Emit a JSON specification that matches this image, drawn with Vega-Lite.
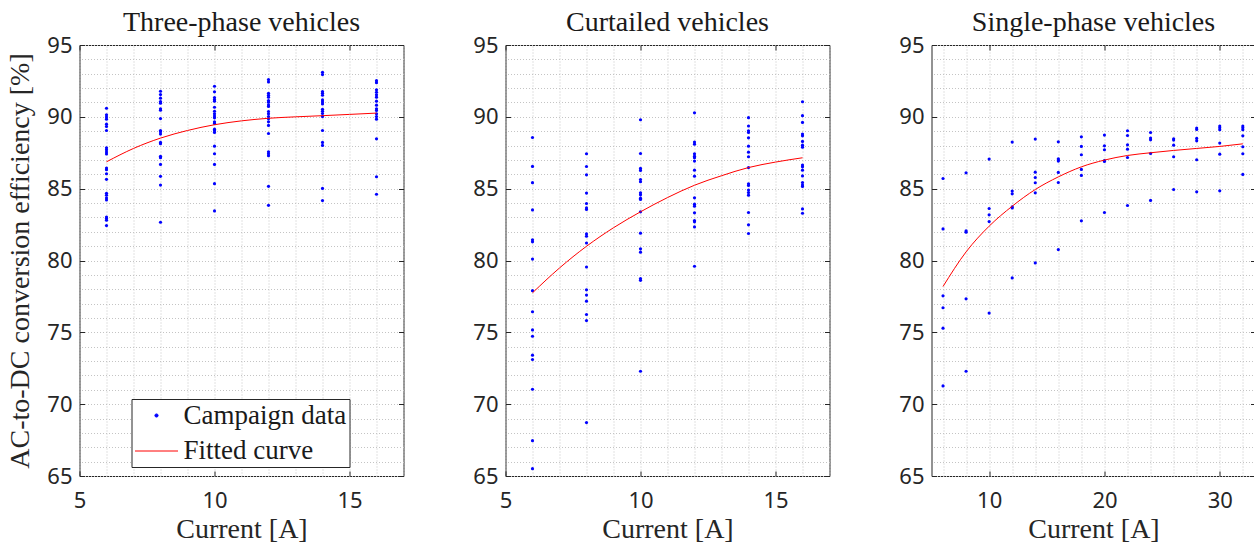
{
  "$schema": "https://vega.github.io/schema/vega-lite/v6.json",
  "padding": {"left": 5.5, "top": 8, "right": 0, "bottom": 0},
  "bounds": "flush",
  "spacing": 102,
  "config": {
    "font": "Liberation Serif",
    "view": {"stroke": "#262626", "strokeWidth": 1},
    "axis": {
      "domain": false,
      "labelFont": "Noto Sans",
      "labelFontSize": 22,
      "labelColor": "#262626",
      "labelFlush": false,
      "labelOverlap": false,
      "titleFont": "Liberation Serif",
      "titleFontSize": 28,
      "titleFontWeight": "normal",
      "titleColor": "#262626",
      "tickColor": "#262626",
      "tickSize": -5,
      "tickWidth": 1,
      "gridColor": "#c4c4c4",
      "gridDash": [1, 2],
      "gridWidth": 1
    },
    "title": {"font": "Liberation Serif", "fontSize": 28, "fontWeight": "normal", "color": "#1a1a1a", "baseline": "alphabetic", "offset": -3}
  },
  "datasets": {
    "threePhase": [
      {"current": 6, "efficiency": 90.6}, {"current": 6, "efficiency": 90.14}, {"current": 6, "efficiency": 89.98}, {"current": 6, "efficiency": 89.84}, {"current": 6, "efficiency": 89.49}, {"current": 6, "efficiency": 89.33}, {"current": 6, "efficiency": 89.05}, {"current": 6, "efficiency": 87.85}, {"current": 6, "efficiency": 87.71}, {"current": 6, "efficiency": 87.55}, {"current": 6, "efficiency": 87.41}, {"current": 6, "efficiency": 86.44}, {"current": 6, "efficiency": 86.32}, {"current": 6, "efficiency": 86.04}, {"current": 6, "efficiency": 85.65}, {"current": 6, "efficiency": 84.68}, {"current": 6, "efficiency": 84.54}, {"current": 6, "efficiency": 84.35}, {"current": 6, "efficiency": 84.21}, {"current": 6, "efficiency": 83.03}, {"current": 6, "efficiency": 82.92}, {"current": 6, "efficiency": 82.8}, {"current": 6, "efficiency": 82.43},
      {"current": 8, "efficiency": 91.78}, {"current": 8, "efficiency": 91.55}, {"current": 8, "efficiency": 91.3}, {"current": 8, "efficiency": 91.06}, {"current": 8, "efficiency": 90.95}, {"current": 8, "efficiency": 90.56}, {"current": 8, "efficiency": 90.46}, {"current": 8, "efficiency": 89.88}, {"current": 8, "efficiency": 89.05}, {"current": 8, "efficiency": 88.96}, {"current": 8, "efficiency": 88.8}, {"current": 8, "efficiency": 88.22}, {"current": 8, "efficiency": 88.13}, {"current": 8, "efficiency": 87.25}, {"current": 8, "efficiency": 87.15}, {"current": 8, "efficiency": 86.69}, {"current": 8, "efficiency": 85.86}, {"current": 8, "efficiency": 85.25}, {"current": 8, "efficiency": 82.66},
      {"current": 10, "efficiency": 92.13}, {"current": 10, "efficiency": 91.74}, {"current": 10, "efficiency": 91.34}, {"current": 10, "efficiency": 91.2}, {"current": 10, "efficiency": 91.09}, {"current": 10, "efficiency": 90.67}, {"current": 10, "efficiency": 90.39}, {"current": 10, "efficiency": 90.21}, {"current": 10, "efficiency": 90.05}, {"current": 10, "efficiency": 89.93}, {"current": 10, "efficiency": 89.65}, {"current": 10, "efficiency": 89.54}, {"current": 10, "efficiency": 89.14}, {"current": 10, "efficiency": 89.03}, {"current": 10, "efficiency": 88.91}, {"current": 10, "efficiency": 87.96}, {"current": 10, "efficiency": 87.43}, {"current": 10, "efficiency": 86.69}, {"current": 10, "efficiency": 85.35}, {"current": 10, "efficiency": 83.45},
      {"current": 12, "efficiency": 92.59}, {"current": 12, "efficiency": 92.43}, {"current": 12, "efficiency": 91.64}, {"current": 12, "efficiency": 91.5}, {"current": 12, "efficiency": 91.37}, {"current": 12, "efficiency": 91.13}, {"current": 12, "efficiency": 91.02}, {"current": 12, "efficiency": 90.83}, {"current": 12, "efficiency": 90.72}, {"current": 12, "efficiency": 90.37}, {"current": 12, "efficiency": 90.21}, {"current": 12, "efficiency": 90.02}, {"current": 12, "efficiency": 89.86}, {"current": 12, "efficiency": 89.65}, {"current": 12, "efficiency": 89.4}, {"current": 12, "efficiency": 88.84}, {"current": 12, "efficiency": 87.57}, {"current": 12, "efficiency": 87.43}, {"current": 12, "efficiency": 87.29}, {"current": 12, "efficiency": 85.16}, {"current": 12, "efficiency": 83.84},
      {"current": 14, "efficiency": 93.1}, {"current": 14, "efficiency": 92.94}, {"current": 14, "efficiency": 91.76}, {"current": 14, "efficiency": 91.64}, {"current": 14, "efficiency": 91.5}, {"current": 14, "efficiency": 91.18}, {"current": 14, "efficiency": 91.04}, {"current": 14, "efficiency": 90.9}, {"current": 14, "efficiency": 90.53}, {"current": 14, "efficiency": 90.39}, {"current": 14, "efficiency": 90.23}, {"current": 14, "efficiency": 90.02}, {"current": 14, "efficiency": 89.05}, {"current": 14, "efficiency": 88.22}, {"current": 14, "efficiency": 88.01}, {"current": 14, "efficiency": 85.02}, {"current": 14, "efficiency": 84.17},
      {"current": 16, "efficiency": 92.52}, {"current": 16, "efficiency": 92.38}, {"current": 16, "efficiency": 91.88}, {"current": 16, "efficiency": 91.71}, {"current": 16, "efficiency": 91.53}, {"current": 16, "efficiency": 91.37}, {"current": 16, "efficiency": 91.09}, {"current": 16, "efficiency": 90.81}, {"current": 16, "efficiency": 90.56}, {"current": 16, "efficiency": 90.44}, {"current": 16, "efficiency": 90.21}, {"current": 16, "efficiency": 90.02}, {"current": 16, "efficiency": 89.84}, {"current": 16, "efficiency": 88.47}, {"current": 16, "efficiency": 85.83}, {"current": 16, "efficiency": 84.61}
    ],
    "threePhaseFit": [
      {"current": 6, "efficiency": 86.87}, {"current": 7, "efficiency": 87.8}, {"current": 8, "efficiency": 88.52}, {"current": 9, "efficiency": 89.05}, {"current": 10, "efficiency": 89.45}, {"current": 11, "efficiency": 89.72}, {"current": 12, "efficiency": 89.9}, {"current": 13, "efficiency": 90.0}, {"current": 14, "efficiency": 90.08}, {"current": 15, "efficiency": 90.17}, {"current": 16, "efficiency": 90.26}
    ],
    "curtailed": [
      {"current": 6, "efficiency": 88.56}, {"current": 6, "efficiency": 86.55}, {"current": 6, "efficiency": 85.42}, {"current": 6, "efficiency": 83.52}, {"current": 6, "efficiency": 81.44}, {"current": 6, "efficiency": 81.3}, {"current": 6, "efficiency": 80.1}, {"current": 6, "efficiency": 77.9}, {"current": 6, "efficiency": 76.43}, {"current": 6, "efficiency": 75.17}, {"current": 6, "efficiency": 74.73}, {"current": 6, "efficiency": 73.41}, {"current": 6, "efficiency": 73.11}, {"current": 6, "efficiency": 71.04}, {"current": 6, "efficiency": 67.46}, {"current": 6, "efficiency": 65.51},
      {"current": 8, "efficiency": 87.43}, {"current": 8, "efficiency": 86.54}, {"current": 8, "efficiency": 85.96}, {"current": 8, "efficiency": 84.69}, {"current": 8, "efficiency": 83.97}, {"current": 8, "efficiency": 83.66}, {"current": 8, "efficiency": 83.55}, {"current": 8, "efficiency": 81.85}, {"current": 8, "efficiency": 81.69}, {"current": 8, "efficiency": 81.22}, {"current": 8, "efficiency": 79.55}, {"current": 8, "efficiency": 77.96}, {"current": 8, "efficiency": 77.59}, {"current": 8, "efficiency": 77.17}, {"current": 8, "efficiency": 76.24}, {"current": 8, "efficiency": 75.82}, {"current": 8, "efficiency": 68.72},
      {"current": 10, "efficiency": 89.8}, {"current": 10, "efficiency": 87.45}, {"current": 10, "efficiency": 86.41}, {"current": 10, "efficiency": 86.27}, {"current": 10, "efficiency": 85.64}, {"current": 10, "efficiency": 85.48}, {"current": 10, "efficiency": 84.71}, {"current": 10, "efficiency": 84.57}, {"current": 10, "efficiency": 84.34}, {"current": 10, "efficiency": 84.25}, {"current": 10, "efficiency": 83.39}, {"current": 10, "efficiency": 81.9}, {"current": 10, "efficiency": 80.81}, {"current": 10, "efficiency": 80.58}, {"current": 10, "efficiency": 78.74}, {"current": 10, "efficiency": 78.62}, {"current": 10, "efficiency": 72.29},
      {"current": 12, "efficiency": 90.28}, {"current": 12, "efficiency": 88.24}, {"current": 12, "efficiency": 88.1}, {"current": 12, "efficiency": 87.43}, {"current": 12, "efficiency": 87.26}, {"current": 12, "efficiency": 87.15}, {"current": 12, "efficiency": 86.92}, {"current": 12, "efficiency": 86.29}, {"current": 12, "efficiency": 85.87}, {"current": 12, "efficiency": 84.36}, {"current": 12, "efficiency": 83.92}, {"current": 12, "efficiency": 83.78}, {"current": 12, "efficiency": 83.32}, {"current": 12, "efficiency": 82.78}, {"current": 12, "efficiency": 82.69}, {"current": 12, "efficiency": 82.34}, {"current": 12, "efficiency": 79.6},
      {"current": 14, "efficiency": 89.94}, {"current": 14, "efficiency": 89.36}, {"current": 14, "efficiency": 89.03}, {"current": 14, "efficiency": 88.91}, {"current": 14, "efficiency": 88.54}, {"current": 14, "efficiency": 87.96}, {"current": 14, "efficiency": 87.54}, {"current": 14, "efficiency": 87.22}, {"current": 14, "efficiency": 86.47}, {"current": 14, "efficiency": 85.34}, {"current": 14, "efficiency": 85.22}, {"current": 14, "efficiency": 84.9}, {"current": 14, "efficiency": 84.73}, {"current": 14, "efficiency": 84.55}, {"current": 14, "efficiency": 83.34}, {"current": 14, "efficiency": 82.48}, {"current": 14, "efficiency": 81.88},
      {"current": 16, "efficiency": 91.05}, {"current": 16, "efficiency": 90.08}, {"current": 16, "efficiency": 89.61}, {"current": 16, "efficiency": 88.8}, {"current": 16, "efficiency": 88.68}, {"current": 16, "efficiency": 88.29}, {"current": 16, "efficiency": 88.03}, {"current": 16, "efficiency": 87.89}, {"current": 16, "efficiency": 86.64}, {"current": 16, "efficiency": 86.52}, {"current": 16, "efficiency": 86.29}, {"current": 16, "efficiency": 85.89}, {"current": 16, "efficiency": 85.43}, {"current": 16, "efficiency": 85.26}, {"current": 16, "efficiency": 85.15}, {"current": 16, "efficiency": 83.59}, {"current": 16, "efficiency": 83.29}
    ],
    "curtailedFit": [
      {"current": 6, "efficiency": 77.75}, {"current": 7, "efficiency": 79.48}, {"current": 8, "efficiency": 80.99}, {"current": 9, "efficiency": 82.28}, {"current": 10, "efficiency": 83.39}, {"current": 11, "efficiency": 84.38}, {"current": 12, "efficiency": 85.24}, {"current": 13, "efficiency": 85.9}, {"current": 14, "efficiency": 86.47}, {"current": 15, "efficiency": 86.85}, {"current": 16, "efficiency": 87.15}
    ],
    "singlePhase": [
      {"current": 6, "efficiency": 85.71}, {"current": 6, "efficiency": 82.2}, {"current": 6, "efficiency": 77.54}, {"current": 6, "efficiency": 76.71}, {"current": 6, "efficiency": 75.29}, {"current": 6, "efficiency": 71.27},
      {"current": 8, "efficiency": 86.1}, {"current": 8, "efficiency": 82.06}, {"current": 8, "efficiency": 81.97}, {"current": 8, "efficiency": 77.33}, {"current": 8, "efficiency": 72.29},
      {"current": 10, "efficiency": 87.06}, {"current": 10, "efficiency": 83.62}, {"current": 10, "efficiency": 83.18}, {"current": 10, "efficiency": 82.71}, {"current": 10, "efficiency": 76.34},
      {"current": 12, "efficiency": 88.24}, {"current": 12, "efficiency": 84.83}, {"current": 12, "efficiency": 84.64}, {"current": 12, "efficiency": 83.73}, {"current": 12, "efficiency": 83.66}, {"current": 12, "efficiency": 78.79},
      {"current": 14, "efficiency": 88.45}, {"current": 14, "efficiency": 86.15}, {"current": 14, "efficiency": 85.78}, {"current": 14, "efficiency": 85.41}, {"current": 14, "efficiency": 84.71}, {"current": 14, "efficiency": 79.83},
      {"current": 16, "efficiency": 88.26}, {"current": 16, "efficiency": 87.08}, {"current": 16, "efficiency": 86.99}, {"current": 16, "efficiency": 86.92}, {"current": 16, "efficiency": 86.13}, {"current": 16, "efficiency": 85.43}, {"current": 16, "efficiency": 80.76},
      {"current": 18, "efficiency": 88.61}, {"current": 18, "efficiency": 87.94}, {"current": 18, "efficiency": 87.36}, {"current": 18, "efficiency": 86.34}, {"current": 18, "efficiency": 85.92}, {"current": 18, "efficiency": 82.76},
      {"current": 20, "efficiency": 88.73}, {"current": 20, "efficiency": 87.98}, {"current": 20, "efficiency": 87.71}, {"current": 20, "efficiency": 86.96}, {"current": 20, "efficiency": 86.89}, {"current": 20, "efficiency": 83.34},
      {"current": 22, "efficiency": 89.03}, {"current": 22, "efficiency": 88.7}, {"current": 22, "efficiency": 88.05}, {"current": 22, "efficiency": 87.75}, {"current": 22, "efficiency": 87.17}, {"current": 22, "efficiency": 83.83},
      {"current": 24, "efficiency": 88.91}, {"current": 24, "efficiency": 88.52}, {"current": 24, "efficiency": 88.4}, {"current": 24, "efficiency": 87.45}, {"current": 24, "efficiency": 84.18},
      {"current": 26, "efficiency": 88.47}, {"current": 26, "efficiency": 88.38}, {"current": 26, "efficiency": 88.03}, {"current": 26, "efficiency": 87.22}, {"current": 26, "efficiency": 84.94},
      {"current": 28, "efficiency": 89.22}, {"current": 28, "efficiency": 89.12}, {"current": 28, "efficiency": 88.5}, {"current": 28, "efficiency": 88.33}, {"current": 28, "efficiency": 87.01}, {"current": 28, "efficiency": 84.78},
      {"current": 30, "efficiency": 89.36}, {"current": 30, "efficiency": 89.24}, {"current": 30, "efficiency": 89.1}, {"current": 30, "efficiency": 88.17}, {"current": 30, "efficiency": 87.4}, {"current": 30, "efficiency": 84.85},
      {"current": 32, "efficiency": 89.36}, {"current": 32, "efficiency": 89.24}, {"current": 32, "efficiency": 89.1}, {"current": 32, "efficiency": 88.68}, {"current": 32, "efficiency": 87.92}, {"current": 32, "efficiency": 87.43}, {"current": 32, "efficiency": 85.99}
    ],
    "singlePhaseFit": [
      {"current": 6, "efficiency": 78.19}, {"current": 8, "efficiency": 80.6}, {"current": 10, "efficiency": 82.39}, {"current": 12, "efficiency": 83.78}, {"current": 14, "efficiency": 84.94}, {"current": 16, "efficiency": 85.82}, {"current": 18, "efficiency": 86.52}, {"current": 20, "efficiency": 86.99}, {"current": 22, "efficiency": 87.31}, {"current": 24, "efficiency": 87.5}, {"current": 26, "efficiency": 87.66}, {"current": 28, "efficiency": 87.8}, {"current": 30, "efficiency": 87.94}, {"current": 32, "efficiency": 88.12}
    ]
  },
  "hconcat": [
    {
      "width": 324,
      "height": 431,
      "title": "Three-phase vehicles",
      "layer": [
        {
          "data": {"name": "threePhase"},
          "mark": {"type": "point", "filled": true, "opacity": 1},
          "encoding": {
            "x": {"field": "current", "type": "quantitative", "scale": {"domain": [5, 17], "nice": false, "zero": false},
                  "axis": {"orient": "bottom", "values": [5, 10, 15], "grid": false, "labelPadding": 19, "title": "Current [A]", "titlePadding": 4}},
            "y": {"field": "efficiency", "type": "quantitative", "scale": {"domain": [65, 95], "nice": false, "zero": false},
                  "axis": {"orient": "left", "values": [65, 70, 75, 80, 85, 90, 95], "grid": false, "labelPadding": 12.5, "title": "AC-to-DC conversion efficiency [%]", "titlePadding": 12}},
            "color": {"datum": "Campaign data", "type": "nominal",
                      "scale": {"domain": ["Campaign data", "Fitted curve"], "range": ["#0000ff", "#ff0000"]},
                      "legend": {
                        "orient": "none", "legendX": 52, "legendY": 354, "title": null,
                        "labelFont": "Liberation Serif", "labelFontSize": 27, "labelColor": "#1a1a1a", "labelLimit": 400,
                        "symbolStrokeWidth": 1, "labelOffset": 5, "padding": 3, "rowPadding": -13,
                        "strokeColor": "#262626", "fillColor": "white"
                      }},
            "shape": {"datum": "Campaign data", "type": "nominal",
                      "scale": {"domain": ["Campaign data", "Fitted curve"], "range": ["circle", "stroke"]},
                      "legend": {
                        "orient": "none", "legendX": 52, "legendY": 354, "title": null,
                        "labelFont": "Liberation Serif", "labelFontSize": 27, "labelColor": "#1a1a1a", "labelLimit": 400,
                        "symbolStrokeWidth": 1, "labelOffset": 5, "padding": 3, "rowPadding": -13,
                        "strokeColor": "#262626", "fillColor": "white"
                      }},
            "size": {"datum": "Campaign data", "type": "nominal",
                     "scale": {"domain": ["Campaign data", "Fitted curve"], "range": [10, 1849]},
                     "legend": {
                        "orient": "none", "legendX": 52, "legendY": 354, "title": null,
                        "labelFont": "Liberation Serif", "labelFontSize": 27, "labelColor": "#1a1a1a", "labelLimit": 400,
                        "symbolStrokeWidth": 1, "labelOffset": 5, "padding": 3, "rowPadding": -13,
                        "strokeColor": "#262626", "fillColor": "white"
                     }}
          }
        },
        {
          "data": {"name": "threePhaseFit"},
          "mark": {"type": "line", "strokeWidth": 1, "interpolate": "monotone"},
          "encoding": {
            "x": {"field": "current", "type": "quantitative",
                  "axis": {"orient": "top", "values": [5, 6, 7, 8, 9, 10, 11, 12, 13, 14, 15, 16, 17], "grid": true, "labels": false, "title": null,
                           "tickOpacity": {"condition": {"test": "datum.value % 5 === 0", "value": 1}, "value": 0}}},
            "y": {"field": "efficiency", "type": "quantitative",
                  "axis": {"orient": "right", "values": [65, 66, 67, 68, 69, 70, 71, 72, 73, 74, 75, 76, 77, 78, 79, 80, 81, 82, 83, 84, 85, 86, 87, 88, 89, 90, 91, 92, 93, 94, 95], "grid": true, "labels": false, "title": null,
                           "tickOpacity": {"condition": {"test": "datum.value % 5 === 0", "value": 1}, "value": 0}}},
            "color": {"datum": "Fitted curve", "type": "nominal"}
          }
        }
      ],
      "resolve": {"axis": {"x": "independent", "y": "independent"}}
    },
    {
      "width": 324,
      "height": 431,
      "title": "Curtailed vehicles",
      "layer": [
        {
          "data": {"name": "curtailed"},
          "mark": {"type": "point", "shape": "circle", "filled": true, "size": 10, "opacity": 1, "color": "#0000ff"},
          "encoding": {
            "x": {"field": "current", "type": "quantitative", "scale": {"domain": [5, 17], "nice": false, "zero": false},
                  "axis": {"orient": "bottom", "values": [5, 10, 15], "grid": false, "labelPadding": 19, "title": "Current [A]", "titlePadding": 4}},
            "y": {"field": "efficiency", "type": "quantitative", "scale": {"domain": [65, 95], "nice": false, "zero": false},
                  "axis": {"orient": "left", "values": [65, 70, 75, 80, 85, 90, 95], "grid": false, "labelPadding": 12.5, "title": null}}
          }
        },
        {
          "data": {"name": "curtailedFit"},
          "mark": {"type": "line", "strokeWidth": 1, "interpolate": "monotone", "color": "#ff0000"},
          "encoding": {
            "x": {"field": "current", "type": "quantitative",
                  "axis": {"orient": "top", "values": [5, 6, 7, 8, 9, 10, 11, 12, 13, 14, 15, 16, 17], "grid": true, "labels": false, "title": null,
                           "tickOpacity": {"condition": {"test": "datum.value % 5 === 0", "value": 1}, "value": 0}}},
            "y": {"field": "efficiency", "type": "quantitative",
                  "axis": {"orient": "right", "values": [65, 66, 67, 68, 69, 70, 71, 72, 73, 74, 75, 76, 77, 78, 79, 80, 81, 82, 83, 84, 85, 86, 87, 88, 89, 90, 91, 92, 93, 94, 95], "grid": true, "labels": false, "title": null,
                           "tickOpacity": {"condition": {"test": "datum.value % 5 === 0", "value": 1}, "value": 0}}}
          }
        }
      ],
      "resolve": {"axis": {"x": "independent", "y": "independent"}}
    },
    {
      "width": 324,
      "height": 431,
      "title": "Single-phase vehicles",
      "layer": [
        {
          "data": {"name": "singlePhase"},
          "mark": {"type": "point", "shape": "circle", "filled": true, "size": 10, "opacity": 1, "color": "#0000ff"},
          "encoding": {
            "x": {"field": "current", "type": "quantitative", "scale": {"domain": [5, 33.1], "nice": false, "zero": false},
                  "axis": {"orient": "bottom", "values": [10, 20, 30], "grid": false, "labelPadding": 19, "title": "Current [A]", "titlePadding": 4}},
            "y": {"field": "efficiency", "type": "quantitative", "scale": {"domain": [65, 95], "nice": false, "zero": false},
                  "axis": {"orient": "left", "values": [65, 70, 75, 80, 85, 90, 95], "grid": false, "labelPadding": 12.5, "title": null}}
          }
        },
        {
          "data": {"name": "singlePhaseFit"},
          "mark": {"type": "line", "strokeWidth": 1, "interpolate": "monotone", "color": "#ff0000"},
          "encoding": {
            "x": {"field": "current", "type": "quantitative",
                  "axis": {"orient": "top", "values": [6, 8, 10, 12, 14, 16, 18, 20, 22, 24, 26, 28, 30, 32], "grid": true, "labels": false, "title": null,
                           "tickOpacity": {"condition": {"test": "datum.value % 10 === 0", "value": 1}, "value": 0}}},
            "y": {"field": "efficiency", "type": "quantitative",
                  "axis": {"orient": "right", "values": [65, 66, 67, 68, 69, 70, 71, 72, 73, 74, 75, 76, 77, 78, 79, 80, 81, 82, 83, 84, 85, 86, 87, 88, 89, 90, 91, 92, 93, 94, 95], "grid": true, "labels": false, "title": null,
                           "tickOpacity": {"condition": {"test": "datum.value % 5 === 0", "value": 1}, "value": 0}}}
          }
        }
      ],
      "resolve": {"axis": {"x": "independent", "y": "independent"}}
    }
  ]
}
